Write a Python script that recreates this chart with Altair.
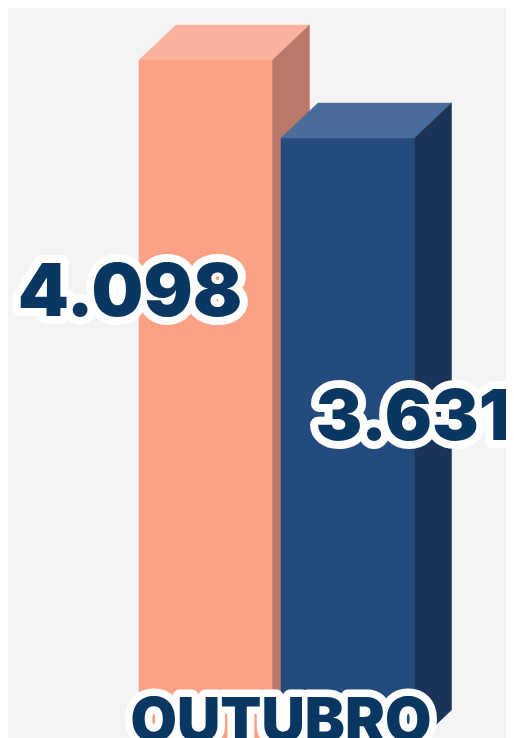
import altair as alt
import pandas as pd

# ---- data ----
months = ["OUTUBRO"]
series = ["Série A", "Série B"]
values = [4098, 3631]

def fmt(v):
    return f"{v:,}".replace(",", ".")

labels = [fmt(v) for v in values]

# ---- layout / style constants ----
W, H = 498, 730
ppu = 685 / 4098            # pixels per value unit
v_top = 4098 + 52 / ppu
y_dom = [v_top - H / ppu, v_top]
pitch = 142.0
x_min = -131 / pitch
x_dom = [x_min, x_min + W / pitch]
bw = 133.5 / pitch
ddx = 37 / pitch
ddy = 35 / ppu

front_colors = ["#fba286", "#234b7d"]
top_colors = ["#fbb19b", "#4a6c9b"]
side_colors = ["#b97869", "#1a3358"]
label_color = "#0a3761"
bg = "#f4f4f6"
FONT = "Inter"

label_dx = [-9, 132]
label_dy = [256, 302]
label_size = [73, 70]

xs = alt.Scale(domain=x_dom, nice=False, zero=False)
ys = alt.Scale(domain=y_dom, nice=False, zero=False)

front_rows, side_rows, top_rows, lab_rows = [], [], [], []
for i, (s, v, lab) in enumerate(zip(series, values, labels)):
    front_rows.append({"i": i, "series": s, "x": i, "x2": i + bw, "lo": 0, "hi": v})
    side_rows.append({"i": i, "series": s, "x": i + bw, "lo": 0, "hi": v})
    side_rows.append({"i": i, "series": s, "x": i + bw + ddx, "lo": ddy, "hi": v + ddy})
    top_rows.append({"i": i, "series": s, "y": v, "xl": i, "xr": i + bw})
    top_rows.append({"i": i, "series": s, "y": v + ddy, "xl": i + ddx, "xr": i + bw + ddx})
    lab_rows.append({"i": i, "series": s, "x": i, "y": v, "label": lab})

front_df = pd.DataFrame(front_rows)
side_df = pd.DataFrame(side_rows)
top_df = pd.DataFrame(top_rows)
lab_df = pd.DataFrame(lab_rows)

layers = []
for i in range(len(values)):
    f = front_df[front_df.i == i]
    sd = side_df[side_df.i == i]
    td = top_df[top_df.i == i]
    layers.append(
        alt.Chart(f).mark_rect(color=front_colors[i], stroke=front_colors[i], strokeWidth=0.5).encode(
            x=alt.X("x:Q", scale=xs, axis=None), x2="x2:Q",
            y=alt.Y("lo:Q", scale=ys, axis=None), y2="hi:Q")
    )
    layers.append(
        alt.Chart(td).mark_area(orient="horizontal", color=top_colors[i], stroke=top_colors[i], strokeWidth=0.5).encode(
            y=alt.Y("y:Q", scale=ys, axis=None),
            x=alt.X("xl:Q", scale=xs, axis=None), x2="xr:Q")
    )
    layers.append(
        alt.Chart(sd).mark_area(color=side_colors[i], stroke=side_colors[i], strokeWidth=0.5).encode(
            x=alt.X("x:Q", scale=xs, axis=None),
            y=alt.Y("lo:Q", scale=ys, axis=None), y2="hi:Q")
    )

for i in range(len(values)):
    ld = lab_df[lab_df.i == i]
    base = alt.Chart(ld).encode(
        x=alt.X("x:Q", scale=xs, axis=None),
        y=alt.Y("y:Q", scale=ys, axis=None),
        text="label:N")
    common = dict(dx=label_dx[i], dy=label_dy[i], align="center", baseline="alphabetic",
                  font=FONT, fontWeight=900, fontSize=label_size[i])
    layers.append(base.mark_text(color="white", stroke="white", strokeWidth=16,
                                 strokeJoin="round", **common))
    layers.append(base.mark_text(color=label_color, **common))

month_df = pd.DataFrame({"month": months,
                         "x": [(0 + bw / 2 + 1 + bw / 2) / 2 + 0.03],
                         "y": [0]})
mbase = alt.Chart(month_df).encode(
    x=alt.X("x:Q", scale=xs, axis=None),
    y=alt.Y("y:Q", scale=ys, axis=None),
    text="month:N")
mcommon = dict(dy=-4, align="center", baseline="alphabetic", font=FONT,
               fontWeight=900, fontSize=60)
layers.append(mbase.mark_text(color="white", stroke="white", strokeWidth=15,
                              strokeJoin="round", **mcommon))
layers.append(mbase.mark_text(color=label_color, **mcommon))

chart = alt.layer(*layers).properties(
    width=W, height=H, background=bg, padding=0,
    autosize=alt.AutoSizeParams(type="none"),
).configure_view(stroke=None)

chart.save("out.html", embed_options={"renderer": "svg", "actions": False})
